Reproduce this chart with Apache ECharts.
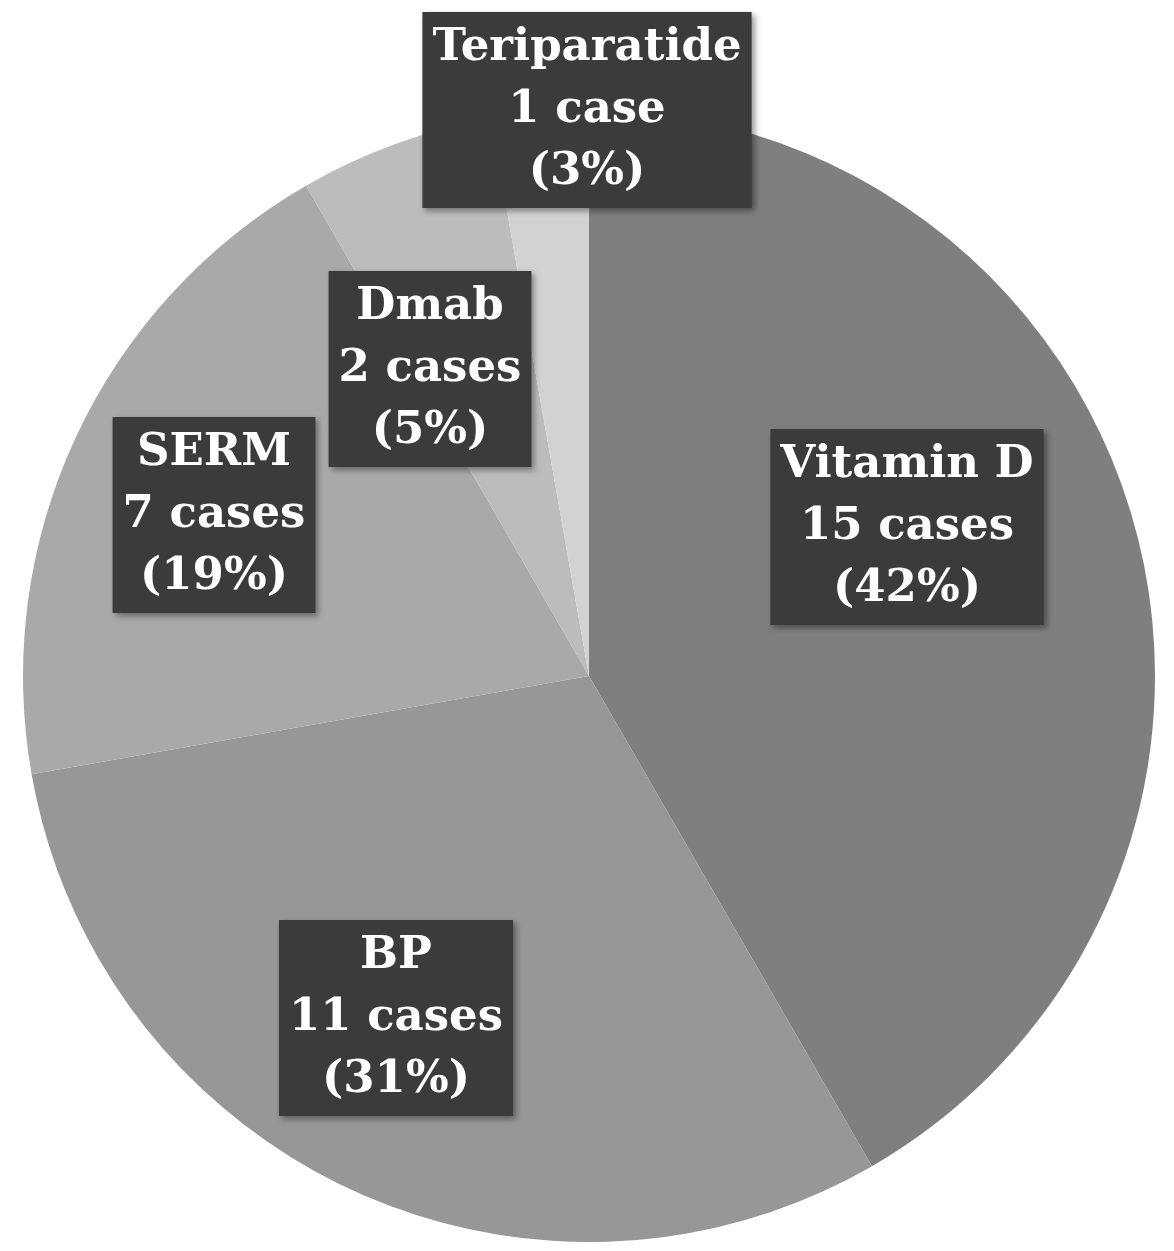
<!DOCTYPE html>
<html><head><meta charset="utf-8">
<script src="https://cdn.jsdelivr.net/npm/echarts@6/dist/echarts.min.js"></script>
<style>html,body{margin:0;background:#fff}#c{width:1174px;height:1251px}</style>
</head><body><div id="c"></div>
<script>
const categories = ['Vitamin D', 'BP', 'SERM', 'Dmab', 'Teriparatide'];
const cases = [15, 11, 7, 2, 1];
const caseLabels = ['15 cases', '11 cases', '7 cases', '2 cases', '1 case'];
const percents = ['42%', '31%', '19%', '5%', '3%'];
const colors = ['#7f7f7f', '#979797', '#a9a9a9', '#bcbcbc', '#d2d2d2'];
const labelPos = [[907, 527], [396, 1018], [214, 515], [430, 369], [587, 110]];

const chart = echarts.init(document.getElementById('c'));
chart.setOption({
  animation: false,
  series: [{
    type: 'pie',
    center: [589, 676],
    radius: 566,
    startAngle: 90,
    clockwise: true,
    data: categories.map((n, i) => ({
      name: n, value: cases[i],
      itemStyle: { color: colors[i] },
      label: { formatter: n + '\n' + caseLabels[i] + '\n(' + percents[i] + ')' }
    })),
    itemStyle: { borderWidth: 0 },
    label: {
      show: true, position: 'inside',
      color: '#fff', fontFamily: 'DejaVu Serif', fontWeight: 'bold', fontSize: 45,
      lineHeight: 62, backgroundColor: '#3b3b3b', padding: [6, 10, 4, 10],
      shadowColor: 'rgba(0,0,0,0.4)', shadowBlur: 6, shadowOffsetX: 3, shadowOffsetY: 3,
      align: 'center'
    },
    labelLine: { show: false },
    labelLayout: p => ({ x: labelPos[p.dataIndex][0], y: labelPos[p.dataIndex][1], align: 'center', verticalAlign: 'middle' })
  }]
});
</script></body></html>
